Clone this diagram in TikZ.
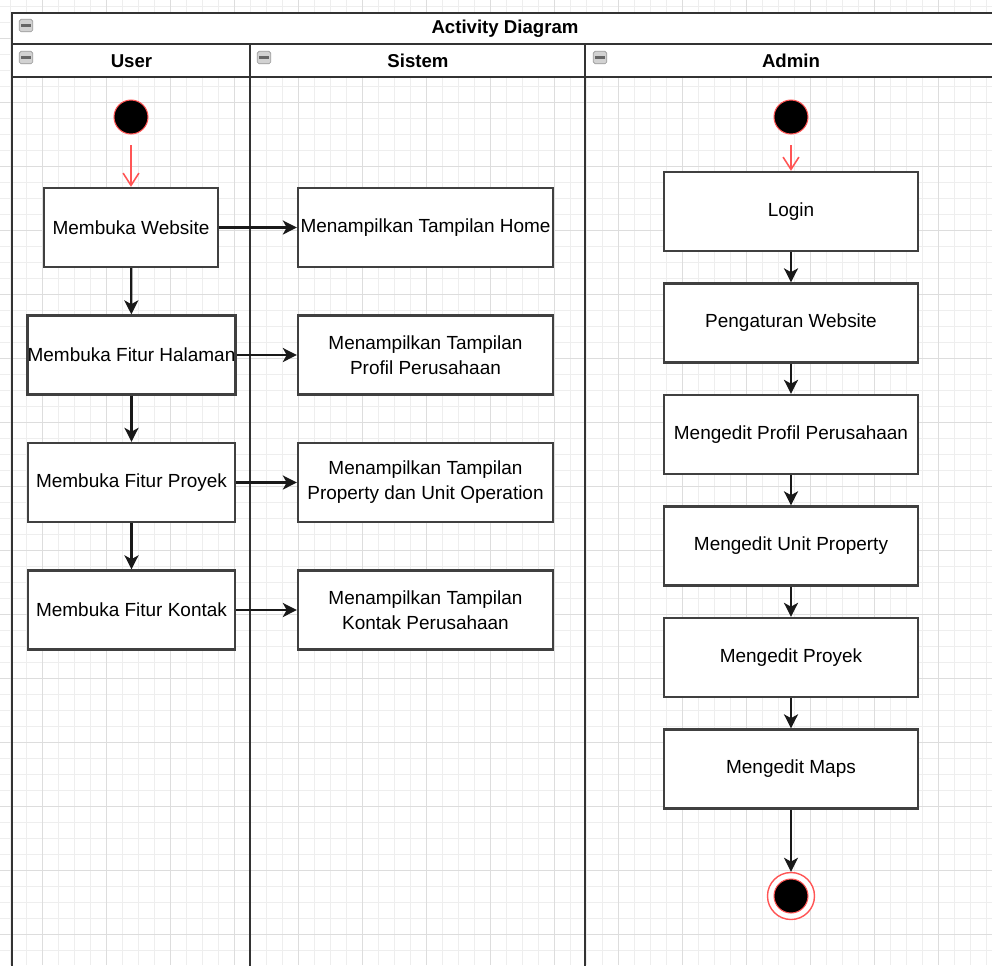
\documentclass[tikz,border=0pt]{standalone}
\usepackage{fontspec}
\setmainfont{Liberation Sans}
\usetikzlibrary{arrows.meta}
\definecolor{lineclr}{HTML}{333333}
\definecolor{boxclr}{HTML}{404040}
\definecolor{startred}{HTML}{FF5555}
\definecolor{gridmin}{HTML}{EEEEEE}
\definecolor{gridmaj}{HTML}{DDDDDD}
\begin{document}
\begin{tikzpicture}[x=0.02cm,y=-0.02cm,
    act/.style={draw=boxclr,line width=1.3pt,fill=white,minimum height=1.58cm,inner sep=0pt,align=center,font=\fontsize{10.8}{14.2}\selectfont},
    initial/.style={circle,fill=black,draw=startred,line width=0.6pt,minimum size=0.68cm,inner sep=0pt},
    final/.style={circle,fill=white,draw=startred,line width=0.8pt,minimum size=0.94cm,inner sep=0pt},
    flow/.style={-{Stealth[length=8pt,width=8pt,inset=2.2pt]},line width=1.3pt,black!90},
    startflow/.style={-{Straight Barb[length=7pt,width=9pt]},line width=0.9pt,startred,shorten <=6pt},
    pool/.style={line width=1.4pt,lineclr},
    lanehead/.style={font=\fontsize{10.6}{12}\selectfont\bfseries},
    minbox/.style={draw=gray!80,fill=gray!35,rounded corners=1pt,minimum width=0.27cm,minimum height=0.25cm,inner sep=0pt,
      path picture={\draw[line width=1.3pt,black!60] ([xshift=-2.6pt]path picture bounding box.center) -- ([xshift=2.6pt]path picture bounding box.center);}}]
  \useasboundingbox (0,0) rectangle (992,965);

  % grid
  \begin{scope}
    \clip (0,0) rectangle (992,965);
    \foreach \gx in {10,26,...,986} \draw[gridmin,line width=0.55pt] (\gx,0) -- (\gx,965);
    \foreach \gy in {6.7,22.7,...,962} \draw[gridmin,line width=0.55pt] (0,\gy) -- (992,\gy);
    \foreach \gx in {42,106,...,986} \draw[gridmaj,line width=0.55pt] (\gx,0) -- (\gx,965);
    \foreach \gy in {38.7,102.7,...,962} \draw[gridmaj,line width=0.55pt] (0,\gy) -- (992,\gy);
  \end{scope}

  % pool and lanes
  \fill[white] (12,13) rectangle (1000,77);
  \draw[pool] (1000,13) -- (12,13) -- (12,975);
  \draw[pool] (12,44) -- (1000,44);
  \draw[pool] (12,77) -- (1000,77);
  \draw[pool] (250,44) -- (250,975);
  \draw[pool] (585,44) -- (585,975);

  \node[minbox] (iconPool) at (26,25.5) {};
  \node[minbox] (iconUser) at (26,57.5) {};
  \node[minbox] (iconSis) at (264,57.5) {};
  \node[minbox] (iconAdm) at (600,57.5) {};
  \node[lanehead] (hPool) at (505,29) {Activity Diagram};
  \node[lanehead] (hUser) at (131.5,61) {User};
  \node[lanehead] (hSis) at (418,61) {Sistem};
  \node[lanehead] (hAdm) at (791,61) {Admin};

  % user
  \node[initial] (usrStart) at (131,117) {};
  \node[act,minimum width=3.48cm] (bukaWeb) at (131,227.5) {Membuka Website};
  \node[act,minimum width=4.14cm] (bukaHal) at (131.5,355) {Membuka Fitur Halaman};
  \node[act,minimum width=4.14cm] (bukaProy) at (131.5,482.5) {Membuka Fitur Proyek};
  \node[act,minimum width=4.14cm] (bukaKont) at (131.5,610) {Membuka Fitur Kontak};

  % sistem
  \node[act,minimum width=5.1cm] (tampHome) at (425.5,227.5) {Menampilkan Tampilan Home};
  \node[act,minimum width=5.1cm] (tampProf) at (425.5,355) {Menampilkan Tampilan\\Profil Perusahaan};
  \node[act,minimum width=5.1cm] (tampProp) at (425.5,482.5) {Menampilkan Tampilan\\Property dan Unit Operation};
  \node[act,minimum width=5.1cm] (tampKont) at (425.5,610) {Menampilkan Tampilan\\Kontak Perusahaan};

  % admin
  \node[initial] (admStart) at (791,117) {};
  \node[act,minimum width=5.08cm] (login) at (791,211.5) {Login};
  \node[act,minimum width=5.08cm] (atur) at (791,323) {Pengaturan Website};
  \node[act,minimum width=5.08cm] (editProf) at (791,434.5) {Mengedit Profil Perusahaan};
  \node[act,minimum width=5.08cm] (editUnit) at (791,546) {Mengedit Unit Property};
  \node[act,minimum width=5.08cm] (editProy) at (791,657.5) {Mengedit Proyek};
  \node[act,minimum width=5.08cm] (editMaps) at (791,769) {Mengedit Maps};
  \node[final] (admEnd) at (791,896) {};
  \node[initial] (admEndDot) at (admEnd) {};

  % flows
  \draw[startflow] (usrStart) -- (bukaWeb);
  \draw[startflow] (admStart) -- (login);
  \draw[flow] (bukaWeb) -- (bukaHal);
  \draw[flow] (bukaHal) -- (bukaProy);
  \draw[flow] (bukaProy) -- (bukaKont);
  \draw[flow] (bukaWeb) -- (tampHome);
  \draw[flow] (bukaHal) -- (tampProf);
  \draw[flow] (bukaProy) -- (tampProp);
  \draw[flow] (bukaKont) -- (tampKont);
  \draw[flow] (login) -- (atur);
  \draw[flow] (atur) -- (editProf);
  \draw[flow] (editProf) -- (editUnit);
  \draw[flow] (editUnit) -- (editProy);
  \draw[flow] (editProy) -- (editMaps);
  \draw[flow] (editMaps) -- (admEnd);
\end{tikzpicture}
\end{document}
